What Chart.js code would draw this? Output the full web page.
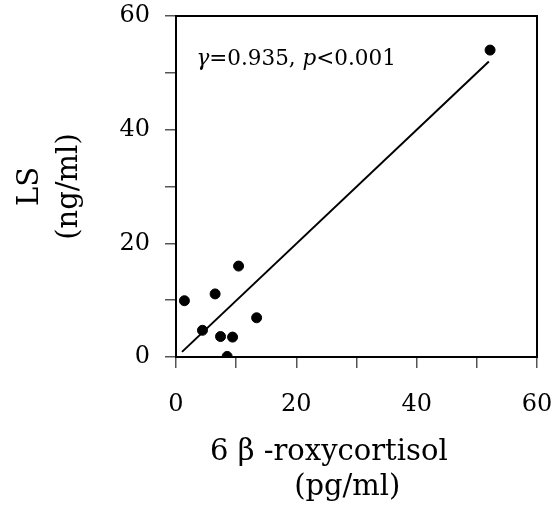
<!DOCTYPE html>
<html>
<head>
<meta charset="utf-8">
<script src="https://cdn.jsdelivr.net/npm/chart.js@4.4.1/dist/chart.umd.min.js"></script>
<style>
  html, body { margin: 0; padding: 0; background: #ffffff; }
  #wrap { width: 560px; height: 513px; }
</style>
</head>
<body>
<div id="wrap"><canvas id="c" width="560" height="513"></canvas></div>
<script>
// ---- data ----
const xValues = [1.4, 4.4, 6.5, 7.4, 8.5, 9.4, 10.4, 13.4, 52.2];
const yValues = [9.9, 4.7, 11.1, 3.6, 0.1, 3.5, 16.0, 6.9, 54.0];
const fitX = [1.0, 52.0];
const fitY = [0.9, 52.0];
const axisMin = 0;
const axisMax = 60;
const tickStep = 10;
const labelStep = 20;
const xTitle = ['6 \u03B2 -roxycortisol\u00A0\u00A0\u00A0\u00A0\u00A0\u00A0', '(pg/ml)\u00A0\u00A0'];
const yTitle = ['LS', '(ng/ml)'];
const statR = '0.935';
const statP = '0.001';
const statAt = { x: 3.4, y: 51.4 };

const FONT = "'DejaVu Serif', 'Liberation Serif', serif";

const scatter = xValues.map((x, i) => ({ x: x, y: yValues[i] }));
const fitLine = fitX.map((x, i) => ({ x: x, y: fitY[i] }));

const boxPlugin = {
  id: 'box',
  afterDatasetsDraw(chart) {
    const { ctx, chartArea: a, scales } = chart;
    ctx.save();
    ctx.strokeStyle = '#000';
    ctx.lineWidth = 2;
    ctx.strokeRect(a.left, a.top, a.right - a.left, a.bottom - a.top);
    // annotation text
    const px = scales.x.getPixelForValue(statAt.x);
    const py = scales.y.getPixelForValue(statAt.y);
    ctx.fillStyle = '#000';
    ctx.textBaseline = 'alphabetic';
    ctx.textAlign = 'left';
    const parts = [
      { t: '\u03B3', it: true },
      { t: '=' + statR + ', ', it: false },
      { t: 'p', it: true },
      { t: '<' + statP, it: false }
    ];
    let cx = px;
    parts.forEach(p => {
      ctx.font = (p.it ? 'italic ' : '') + '21.5px ' + FONT;
      ctx.fillText(p.t, cx, py);
      cx += ctx.measureText(p.t).width;
    });
    ctx.restore();
  }
};

new Chart(document.getElementById('c'), {
  type: 'scatter',
  data: {
    datasets: [
      {
        data: scatter,
        backgroundColor: '#000',
        borderColor: '#000',
        pointRadius: 5,
        pointHoverRadius: 5,
        order: 1
      },
      {
        type: 'line',
        data: fitLine,
        borderColor: '#000',
        borderWidth: 2,
        pointRadius: 0,
        fill: false,
        order: 2
      }
    ]
  },
  options: {
    responsive: false,
    animation: false,
    events: [],
    layout: { padding: { left: 0, right: 23, top: 16, bottom: 0 } },
    plugins: {
      legend: { display: false },
      tooltip: { enabled: false }
    },
    scales: {
      x: {
        type: 'linear',
        min: axisMin,
        max: axisMax,
        afterFit(s) { s.height = 156; s.paddingLeft = 0; s.paddingRight = 0; },
        ticks: {
          stepSize: tickStep,
          color: '#000',
          padding: 22,
          font: { family: FONT, size: 24 },
          maxRotation: 0,
          autoSkip: false,
          callback: v => (v % labelStep === 0 ? String(v) : '')
        },
        grid: { drawOnChartArea: false, drawTicks: true, tickLength: 11, color: '#555', lineWidth: 1.5 },
        border: { display: true, color: '#000', width: 2 },
        title: {
          display: true,
          text: xTitle,
          color: '#000',
          font: { family: FONT, size: 29, lineHeight: 1.2 },
          padding: { top: 0, bottom: 8 }
        }
      },
      y: {
        type: 'linear',
        min: axisMin,
        max: axisMax,
        afterFit(s) { s.width = 176; s.paddingTop = 0; s.paddingBottom = 0; },
        ticks: {
          stepSize: tickStep,
          color: '#000',
          padding: 15,
          font: { family: FONT, size: 24 },
          autoSkip: false,
          callback: v => (v % labelStep === 0 ? String(v) : '')
        },
        grid: { drawOnChartArea: false, drawTicks: true, tickLength: 11, color: '#555', lineWidth: 1.5 },
        border: { display: true, color: '#000', width: 2 },
        title: {
          display: true,
          text: yTitle,
          color: '#000',
          font: { family: FONT, size: 29, lineHeight: 1.35 },
          padding: { top: 11, bottom: 0 }
        }
      }
    }
  },
  plugins: [boxPlugin]
});
</script>
</body>
</html>
